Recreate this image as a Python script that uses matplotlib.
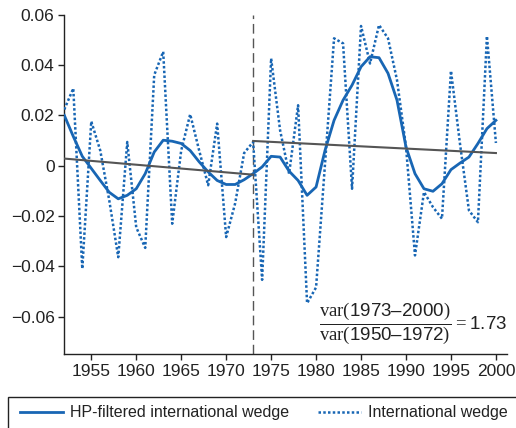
import matplotlib
matplotlib.use('Agg')
import matplotlib.pyplot as plt
from matplotlib.lines import Line2D
from matplotlib.patches import Rectangle
import numpy as np

plt.rcParams.update({
    'font.family': ['Liberation Sans', 'DejaVu Sans'],
    'mathtext.fontset': 'custom',
    'mathtext.rm': 'Liberation Serif',
    'mathtext.sf': 'Liberation Sans',
    'axes.spines.top': False,
    'axes.spines.right': False,
})

# --- data ---
years = np.arange(1952, 2001)

wedge = [0.0223, 0.0307, -0.0410, 0.0176, 0.0060, -0.0138, -0.0364, 0.0094,
         -0.0245, -0.0327, 0.0360, 0.0453, -0.0231, 0.0060, 0.0204, 0.0060,
         -0.0078, 0.0167, -0.0284, -0.0150, 0.0050, 0.0094, -0.0454, 0.0426,
         0.0140, -0.0032, 0.0240, -0.0547, -0.0484, 0.0010, 0.0506, 0.0486,
         -0.0092, 0.0555, 0.0406, 0.0559, 0.0506, 0.0340, 0.0075, -0.0357,
         -0.0105, -0.0165, -0.0211, 0.0377, 0.0088, -0.0178, -0.0225, 0.0515,
         0.0090]

hp_wedge = [0.0200, 0.0116, 0.0037, -0.0011, -0.0059, -0.0106, -0.0132, -0.0118,
            -0.0092, -0.0032, 0.0054, 0.0101, 0.0097, 0.0088, 0.0060, 0.0015,
            -0.0025, -0.0059, -0.0075, -0.0075, -0.0056, -0.0032, -0.0005, 0.0037,
            0.0034, -0.0022, -0.0059, -0.0118, -0.0085, 0.0061, 0.0180, 0.0260,
            0.0320, 0.0393, 0.0433, 0.0429, 0.0367, 0.0260, 0.0074, -0.0032,
            -0.0092, -0.0102, -0.0072, -0.0016, 0.0010, 0.0034, 0.0088, 0.0147,
            0.0180]

trend1_years = [1952, 1973]
trend1 = [0.0028, -0.0036]
trend2_years = [1973, 2000]
trend2 = [0.0098, 0.0050]

break_year = 1973
var_ratio = 1.73

yticks = [-0.06, -0.04, -0.02, 0, 0.02, 0.04, 0.06]
ytick_labels = ['\u22120.06', '\u22120.04', '\u22120.02', '0', '0.02', '0.04', '0.06']
xticks = list(range(1955, 2001, 5))

blue = '#1866b4'
grey = '#555555'
ink = '#222222'

fig = plt.figure(figsize=(5.16, 4.28), dpi=100)
ax = fig.add_axes([0.1246, 0.1722, 0.8574, 0.7935])

ax.plot(years, wedge, color=blue, lw=1.8, linestyle=(0, (1, 0.9)), zorder=3)
ax.plot(years, hp_wedge, color=blue, lw=2.0, zorder=4)
ax.plot(trend1_years, trend1, color=grey, lw=1.5, zorder=5)
ax.plot(trend2_years, trend2, color=grey, lw=1.5, zorder=5)
ax.axvline(break_year, color=grey, lw=1.0, dashes=(7, 3.5), zorder=2)

ax.set_xlim(1952, 2001.2)
ax.set_ylim(-0.075, 0.06)
ax.set_yticks(yticks)
ax.set_yticklabels(ytick_labels)
ax.set_xticks(xticks)

for s in ('left', 'bottom'):
    ax.spines[s].set_color(ink)
    ax.spines[s].set_linewidth(1.0)
ax.tick_params(axis='both', direction='out', length=4, width=1.0,
               color=ink, labelcolor=ink, labelsize=12.5, pad=3)

ratio_label = (r'$\dfrac{\mathrm{var(}\mathsf{1973–2000}\mathrm{)}}'
               r'{\mathrm{var(}\mathsf{1950–1972}\mathrm{)}} = \mathsf{%.2f}$' % var_ratio)
ax.text(2001.2, -0.0625, ratio_label, fontsize=13.5, color=ink,
        ha='right', va='center')

# legend box running off the bottom/right edge, as in the original
fig.add_artist(Rectangle((8.3 / 516, -0.5), 1.2, 0.5 + 1 - 396.7 / 428,
                         transform=fig.transFigure, fill=False,
                         edgecolor=ink, lw=1.0, clip_on=False))
handles = [Line2D([], [], color=blue, lw=2.0),
           Line2D([], [], color=blue, lw=1.8, linestyle=(0, (1, 0.9)))]
fig.legend(handles, ['HP-filtered international wedge', 'International wedge'],
           loc='center left', bbox_to_anchor=(20 / 516, 1 - 413 / 428),
           ncol=2, frameon=False, fontsize=11.5, borderpad=0, borderaxespad=0,
           handlelength=2.7, handletextpad=0.45, columnspacing=1.8,
           labelcolor=ink)

fig.savefig('out.png', dpi=100, facecolor='white')
